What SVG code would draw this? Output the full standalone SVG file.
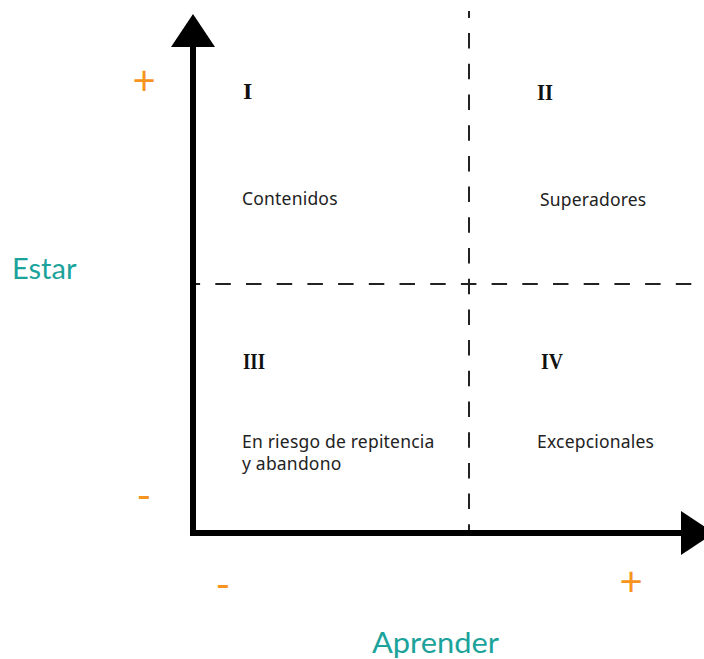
<svg xmlns="http://www.w3.org/2000/svg" width="704" height="659" viewBox="0 0 704 659">
<style>
.axis{stroke:#000;stroke-width:6;fill:none}
.head{fill:#000}
.dash{stroke:#222;stroke-width:2;fill:none;stroke-dasharray:15.5 15.2}
.num{font-family:"Liberation Serif",serif;font-weight:bold;font-size:24px;fill:#111}
.lbl{font-family:"Noto Sans",sans-serif;font-size:17.5px;fill:#222;letter-spacing:0.2px}
.title{font-family:Lato,sans-serif;font-size:29px;fill:#1ba39b}
.sign{font-family:Lato,sans-serif;font-size:40px;fill:#f7941d;text-anchor:middle}
</style>
<rect width="704" height="659" fill="#fff"/>
<g id="connectors">
<line class="dash" x1="469" y1="11" x2="469" y2="533" stroke-dashoffset="8.6"/>
<line class="dash" x1="193" y1="284" x2="704" y2="284" stroke-dashoffset="8.4"/>
<line class="axis" x1="193" y1="45" x2="193" y2="536"/>
<line class="axis" x1="190" y1="533" x2="683" y2="533"/>
<polygon class="head" points="171,47 215,47 193,14"/>
<polygon class="head" points="681,511 681,555 714,533"/>
</g>
<g id="q1"><text class="num" x="243" y="99">I</text><text class="lbl" x="242" y="205">Contenidos</text></g>
<g id="q2"><text class="num" x="537" y="100" textLength="16" lengthAdjust="spacingAndGlyphs">II</text><text class="lbl" x="540" y="206">Superadores</text></g>
<g id="q3"><text class="num" x="243" y="369" textLength="22" lengthAdjust="spacingAndGlyphs">III</text><text class="lbl" x="242" y="448">En riesgo de repitencia</text><text class="lbl" x="242" y="470">y abandono</text></g>
<g id="q4"><text class="num" x="541" y="369" textLength="22" lengthAdjust="spacingAndGlyphs">IV</text><text class="lbl" x="537" y="448">Excepcionales</text></g>
<g id="estar"><text class="title" x="12" y="279">Estar</text></g>
<g id="aprender"><text class="title" x="372" y="653" font-size="30" textLength="127" lengthAdjust="spacingAndGlyphs">Aprender</text></g>
<g id="signs">
<text class="sign" x="144" y="95">+</text>
<text class="sign" x="631" y="596">+</text>
<text class="sign" x="144" y="510">-</text>
<text class="sign" x="223" y="599">-</text>
</g>
</svg>
